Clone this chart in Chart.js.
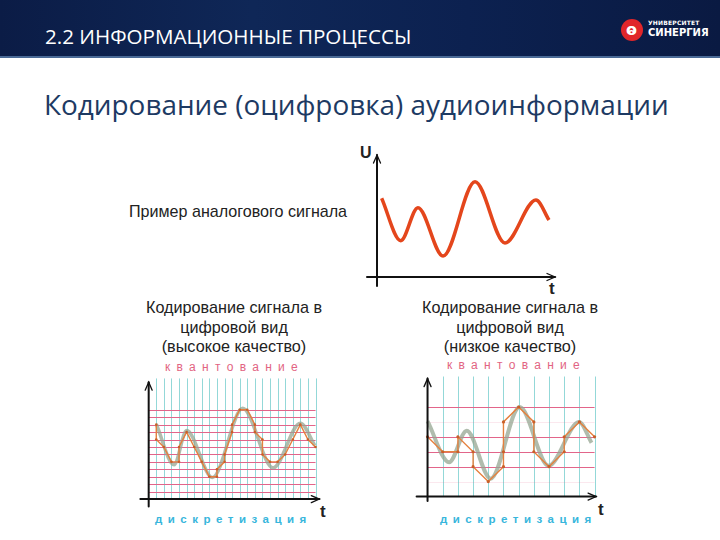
<!DOCTYPE html>
<html><head><meta charset="utf-8">
<script src="https://cdn.jsdelivr.net/npm/chart.js@4"></script>
<style>
body{margin:0;width:720px;height:540px;overflow:hidden;background:#fff;position:relative;font-family:"Liberation Sans",Arial,sans-serif}
#hdr{position:absolute;left:0;top:0;width:720px;height:56px;background:linear-gradient(90deg,#0b1c46 0%,#0f2757 35%,#0c2150 65%,#0a1a42 100%);border-bottom:2px solid #4a6a96}
#hdrt{position:absolute;left:45px;top:22px;font-family:"Open Sans",sans-serif;font-size:20.6px;color:#fff;white-space:nowrap}
#logo{position:absolute;left:621px;top:19px;width:22px;height:22px;border-radius:50%;background:#e0262a}
#logo span{position:absolute;left:5px;top:1px;color:#fff;font:bold 16px "DejaVu Sans";}
#lt1{position:absolute;left:648px;top:19px;font:bold 6px "DejaVu Sans";color:#fff;letter-spacing:0.2px}
#lt2{position:absolute;left:648px;top:27px;font:bold 10px "DejaVu Sans";color:#fff}
#title{position:absolute;left:44px;top:85px;font-family:"Open Sans",sans-serif;font-size:27.9px;color:#1d3a63;white-space:nowrap}
.t{position:absolute;white-space:nowrap;color:#222}
.cap{position:absolute;text-align:center;font-size:16.2px;line-height:19.5px;color:#222;width:240px}
.kv{position:absolute;font-size:12px;letter-spacing:6.3px;color:#e26482;white-space:nowrap}
.ds{position:absolute;font-size:11.5px;font-weight:bold;letter-spacing:5.5px;color:#38b6dc;white-space:nowrap}
canvas{position:absolute}
</style></head>
<body>
<div id="hdr"><div id="hdrt">2.2 ИНФОРМАЦИОННЫЕ ПРОЦЕССЫ</div>
<div id="logo"><span>ⱺ</span></div><div id="lt1">УНИВЕРСИТЕТ</div><div id="lt2">СИНЕРГИЯ</div></div>
<div id="title">Кодирование (оцифровка) аудиоинформации</div>
<div class="t" style="left:129px;top:202px;font-size:16.1px">Пример аналогового сигнала</div>
<div class="t" style="left:360px;top:144px;font-size:16px;font-weight:bold">U</div>
<div class="t" style="left:549px;top:279px;font-size:17px;font-weight:bold">t</div>
<div class="cap" style="left:114px;top:298px">Кодирование сигнала в<br>цифровой вид<br>(высокое качество)</div>
<div class="cap" style="left:390px;top:298px">Кодирование сигнала в<br>цифровой вид<br>(низкое качество)</div>
<div class="kv" style="left:165px;top:360px">квантование</div>
<div class="kv" style="left:447px;top:358px">квантование</div>
<div class="ds" style="left:155px;top:513px">дискретизация</div>
<div class="ds" style="left:440px;top:513px">дискретизация</div>
<div class="t" style="left:320px;top:502px;font-size:17px;font-weight:bold">t</div>
<div class="t" style="left:598px;top:500px;font-size:17px;font-weight:bold">t</div>
<canvas id="c1" width="200" height="145" style="left:360px;top:145px"></canvas>
<canvas id="c2" width="200" height="140" style="left:130px;top:370px"></canvas>
<canvas id="c3" width="205" height="145" style="left:405px;top:365px"></canvas>
<script>
// --- analog example signal (top) ---
const analogT = [0.27, 1.38, 2.38, 3.84, 5.70, 7.44, 9.24, 10.0];
const analogU = [6.2, 2.86, 5.46, 1.65, 7.5, 2.68, 6.06, 4.49];

// --- high quality coding ---
const hqSampleTimes = [1,2,3,4,5,6,7,8,9,10,11,12,13,14,15,16,17,18,19,20,21,22];
const hqLevels = [1,2,3,4,5,6,7,8,9,10,11,12];
const hqAnalogK = [1.01, 3.34, 5.0, 8.41, 12.4, 16.4, 20.0, 21.9];
const hqAnalogL = [10.05, 4.6, 9.2, 2.9, 12.2, 4.2, 10.2, 7.2];
const hqDigitalK = [1,1,2,3,4,4,5,6,7,8,9,9,10,10,11,11,12,13,14,14,15,15,16,17,18,19,20,21,22];
const hqDigitalL = [10,8,7,5,5,7,9,7,5,3,3,4,5,6,9,10,12,12,10,9,8,6,5,5,6,8,10,8,7];

// --- low quality coding ---
const lqSampleTimes = [1,2,3,4,5,6,7,8,9,10,11];
const lqLevels = [1,2,3,4,5,6];
const lqLevelStrong = [false,true,true,true,false,true];
const lqAnalogK = [0, 1.42, 2.58, 4.16, 6.07, 7.97, 9.98, 10.8];
const lqAnalogL = [5.05, 2.3, 4.4, 1.2, 6.0, 2.06, 5.0, 3.6];
const lqDigitalK = [0,1,2,2,3,3,4,5,5,5,6,7,7,8,9,9,10,11];
const lqDigitalL = [4,3,3,4,3,2,1,2,3,5,6,5,3,2,3,4,5,4];

const zip = (a,b)=>a.map((v,i)=>({x:v,y:b[i]}));

const axesPlugin = {
  id:'axesGrid',
  beforeDatasetsDraw(chart, args, o){
    const {ctx, scales:{x,y}} = chart;
    ctx.save();
    ctx.lineWidth = 1;
    if (o.vLines){
      ctx.strokeStyle = o.vColor;
      o.vLines.forEach(k=>{
        const px = Math.round(x.getPixelForValue(k))+0.5;
        ctx.beginPath(); ctx.moveTo(px, y.getPixelForValue(0)); ctx.lineTo(px, y.getPixelForValue(o.vTop)); ctx.stroke();
      });
    }
    if (o.hLines){
      o.hLines.forEach((L,i)=>{
        ctx.strokeStyle = (o.hStrong && !o.hStrong[i]) ? o.hFaint : o.hColor;
        const py = Math.round(y.getPixelForValue(L))+0.5;
        ctx.beginPath(); ctx.moveTo(x.getPixelForValue(0), py); ctx.lineTo(x.getPixelForValue(o.hRight), py); ctx.stroke();
      });
    }
    ctx.restore();
  },
  afterDatasetsDraw(chart, args, o){
    const {ctx, scales:{x,y}} = chart;
    ctx.save();
    ctx.strokeStyle = '#111'; ctx.lineWidth = o.axisWidth || 2; ctx.lineCap='round';
    const x0 = x.getPixelForValue(0), y0 = y.getPixelForValue(0);
    const xl = x.getPixelForValue(o.xFrom), xr = x.getPixelForValue(o.xTo);
    const yb = y.getPixelForValue(o.yFrom), yt = y.getPixelForValue(o.yTo);
    ctx.beginPath(); ctx.moveTo(x0, yb); ctx.lineTo(x0, yt); ctx.stroke();
    ctx.beginPath(); ctx.moveTo(xl, y0); ctx.lineTo(xr, y0); ctx.stroke();
    ctx.lineWidth = 1.3;
    ctx.beginPath(); ctx.moveTo(x0-3.5, yt+8); ctx.lineTo(x0, yt); ctx.lineTo(x0+3.5, yt+8); ctx.stroke();
    ctx.beginPath(); ctx.moveTo(xr-8, y0-3.5); ctx.lineTo(xr, y0); ctx.lineTo(xr-8, y0+3.5); ctx.stroke();
    ctx.restore();
  }
};

function baseOpts(xmin,xmax,ymin,ymax,plug){
  return {
    responsive:false, animation:false, events:[],
    layout:{padding:0},
    scales:{
      x:{type:'linear', display:false, min:xmin, max:xmax},
      y:{type:'linear', display:false, min:ymin, max:ymax}
    },
    plugins:{legend:{display:false}, tooltip:{enabled:false}, axesGrid:plug}
  };
}

// top chart
new Chart(document.getElementById('c1'), {
  type:'line',
  data:{datasets:[{data:zip(analogT,analogU), borderColor:'#e4461c', borderWidth:3.5,
    pointRadius:0, cubicInterpolationMode:'monotone', fill:false}]},
  options: baseOpts((360-377)/17.2, (560-377)/17.2, (277-290)/12.7, (277-145)/12.7,
    {xFrom:-0.58, xTo:10.35, yFrom:-0.7, yTo:9.6, axisWidth:2}),
  plugins:[axesPlugin]
});

// high quality
new Chart(document.getElementById('c2'), {
  type:'line',
  data:{datasets:[
    {data:zip(hqDigitalK,hqDigitalL), borderColor:'#e5803e', borderWidth:1.4, pointRadius:1.3,
      pointBackgroundColor:'#c8602a', pointBorderWidth:0, tension:0, fill:false},
    {data:zip(hqAnalogK,hqAnalogL), borderColor:'rgba(150,165,145,0.75)', borderWidth:3.5,
      pointRadius:0, cubicInterpolationMode:'monotone', fill:false}
  ]},
  options: baseOpts((130-145.3)/7.9, (330-145.3)/7.9, (502.7-510)/7.9, (502.7-370)/7.9,
    {vLines:hqSampleTimes, vTop:16.2, vColor:'#93d8d8', hLines:hqLevels, hRight:22, hColor:'#e2658a',
     xFrom:-1.1, xTo:22.5, yFrom:-1.0, yTo:15.7, axisWidth:2}),
  plugins:[axesPlugin]
});

// low quality
new Chart(document.getElementById('c3'), {
  type:'line',
  data:{datasets:[
    {data:zip(lqDigitalK,lqDigitalL), borderColor:'#e5803e', borderWidth:1.4, pointRadius:1.6,
      pointBackgroundColor:'#c8602a', pointBorderWidth:0, tension:0, fill:false},
    {data:zip(lqAnalogK,lqAnalogL), borderColor:'rgba(150,165,145,0.75)', borderWidth:4,
      pointRadius:0, cubicInterpolationMode:'monotone', fill:false}
  ]},
  options: baseOpts((405-424.3)/15.8, (610-424.3)/15.8, (500-510)/15.8, (500-365)/15.8,
    {vLines:lqSampleTimes, vTop:8.04, vColor:'#93d8d8', hLines:lqLevels, hStrong:lqLevelStrong,
     hRight:11, hColor:'#e2658a', hFaint:'rgba(226,101,138,0.15)',
     xFrom:-0.72, xTo:11.1, yFrom:-0.3, yTo:7.9, axisWidth:2}),
  plugins:[axesPlugin]
});
</script>
</body></html>
